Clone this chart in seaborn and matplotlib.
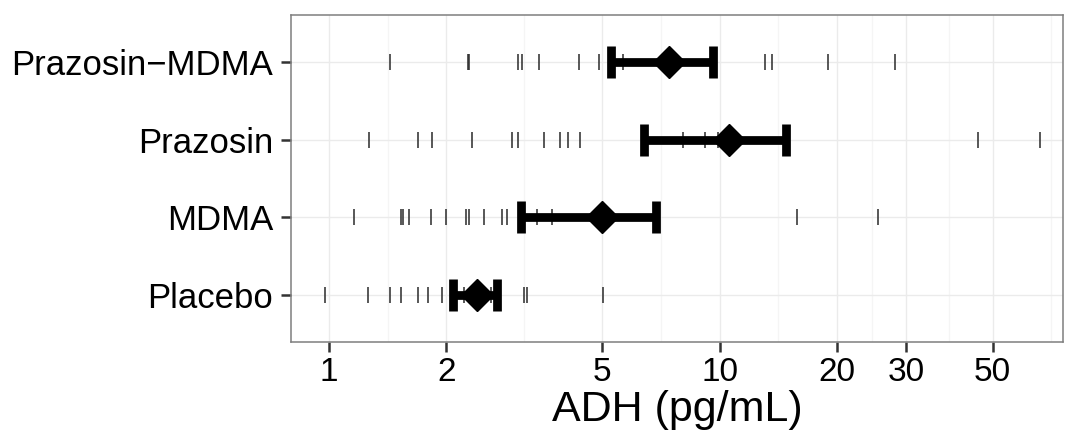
import numpy as np
import pandas as pd
import matplotlib
matplotlib.use("Agg")
import matplotlib.pyplot as plt
import seaborn as sns

# groups, top to bottom
groups = ["Prazosin\u2212MDMA", "Prazosin", "MDMA", "Placebo"]

# individual ADH values (pg/mL)
prazosin_mdma = [1.43, 2.27, 2.29, 3.05, 3.13, 3.45, 4.37, 4.92, 5.65,
                 13.1, 13.65, 18.9, 28.2]
prazosin = [1.27, 1.69, 1.84, 2.32, 2.94, 3.05, 3.55, 3.9, 4.09, 4.39,
            8.05, 9.17, 9.88, 45.8, 66.2]
mdma = [1.16, 1.53, 1.55, 1.6, 1.83, 2.0, 2.24, 2.29, 2.49, 2.77, 2.85,
        3.42, 3.72, 15.8, 25.4]
placebo = [0.975, 1.26, 1.43, 1.53, 1.69, 1.79, 1.95, 2.22, 2.6, 3.15,
           3.22, 5.02]

# summary: centre and interval per group
centre = [7.44, 10.6, 5.0, 2.39]
lower = [5.28, 6.39, 3.11, 2.08]
upper = [9.63, 14.8, 6.89, 2.70]

xticks = [1, 2, 5, 10, 20, 30, 50]

rows = []
for g, vals in zip(groups, [prazosin_mdma, prazosin, mdma, placebo]):
    for v in vals:
        rows.append({"group": g, "adh": v})
df = pd.DataFrame(rows)

sns.set_style("white")
plt.rcParams["font.family"] = ["Liberation Sans", "DejaVu Sans"]

fig = plt.figure(figsize=(10.65, 4.41), dpi=100)
ax = fig.add_axes([291 / 1065, 1 - 342 / 441, (1063 - 291) / 1065, (342 - 15) / 441])
ax.set_xscale("log")

sns.stripplot(data=df, x="adh", y="group", order=groups, jitter=False,
              marker="|", s=11, linewidth=1.1, color="#2a2a2a", ax=ax,
              zorder=3)

c = np.array(centre)
err = [c - np.array(lower), np.array(upper) - c]
ax.errorbar(c, np.arange(len(groups)), xerr=err, fmt="D", color="black",
            ms=16, elinewidth=6.3, capsize=11.2, capthick=6.3, zorder=4)

ax.set_xlim(0.8, 75.7)
ax.set_ylim(3.6, -0.6)

ax.xaxis.set_major_locator(matplotlib.ticker.FixedLocator(xticks))
ax.xaxis.set_major_formatter(matplotlib.ticker.FixedFormatter([str(t) for t in xticks]))
minors = list(np.sqrt(np.array(xticks[:-1]) * np.array(xticks[1:]))) + [np.sqrt(50 * 100)]
ax.xaxis.set_minor_locator(matplotlib.ticker.FixedLocator(minors))
ax.xaxis.set_minor_formatter(matplotlib.ticker.NullFormatter())

ax.grid(which="major", color="#ebebeb", linewidth=1.0, zorder=0)
ax.grid(which="minor", axis="x", color="#f5f5f5", linewidth=1.0, zorder=0)
ax.set_axisbelow(True)

for s in ax.spines.values():
    s.set_color("#7f7f7f")
    s.set_linewidth(1.1)

ax.tick_params(axis="both", which="major", length=7, width=1.8, color="#333333",
               labelcolor="black", bottom=True, left=True)
ax.tick_params(axis="x", which="major", labelsize=24, pad=4)
ax.tick_params(axis="y", which="major", labelsize=25, pad=6)
ax.tick_params(axis="x", which="minor", length=0)

ax.set_xlabel("ADH (pg/mL)", fontsize=31, labelpad=1, color="black")
ax.set_ylabel("")

fig.savefig("out.png", dpi=100)
